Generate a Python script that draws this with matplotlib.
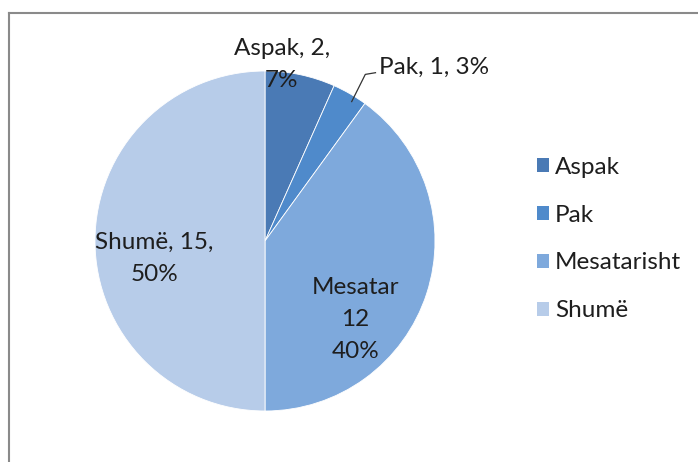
import matplotlib.pyplot as plt
from matplotlib.lines import Line2D
from matplotlib.patches import Patch

# Data
categories = ['Aspak', 'Pak', 'Mesatarisht', 'Shumë']
counts = [2, 1, 12, 15]
slice_labels = ['Aspak, 2,\n7%', 'Pak, 1, 3%', 'Mesatar\n12\n40%', 'Shumë, 15,\n50%']
colors = ['#4A7AB5', '#4F8ACB', '#7EA9DC', '#B7CCE9']

plt.rcParams['font.family'] = ['Lato', 'DejaVu Sans']
fs = 17.5
txt_color = '#1e1e1e'

W, H = 698, 462
fig = plt.figure(figsize=(W / 100, H / 100), dpi=100)

# pie centred at (265, 241) px with radius 170 px
cx, cy, r = 265, 241, 170
ax = fig.add_axes([(cx - r) / W, (H - cy - r) / H, 2 * r / W, 2 * r / H])
wedges, _ = ax.pie(counts, colors=colors, startangle=90, counterclock=False,
                   wedgeprops=dict(edgecolor='white', linewidth=0.6))
ax.set_xlim(-1, 1)
ax.set_ylim(-1, 1)
ax.set_aspect('equal')
ax.axis('off')

# data labels (positions relative to the pie, in units of radius)
label_pos = [(0.10, 1.04), (0.67, 1.02), (0.53, -0.46), (-0.65, -0.10)]
label_ha = ['center', 'left', 'center', 'center']
for lab, (x, y), ha in zip(slice_labels, label_pos, label_ha):
    ax.text(x, y, lab, ha=ha, va='center', multialignment='center',
            fontsize=fs, color=txt_color, linespacing=1.65, clip_on=False)

# leader line for the small slice
ax.plot([0.51, 0.59, 0.65], [0.82, 0.98, 0.99], color='#333333', lw=0.9,
        clip_on=False)

# legend
handles = [Patch(facecolor=c, edgecolor='none') for c in colors]
fig.legend(handles, categories, loc='center left',
           bbox_to_anchor=(537 / W, 1 - 239 / H), frameon=False,
           fontsize=fs, labelcolor=txt_color, handlelength=0.48,
           handleheight=0.48, handletextpad=0.25, labelspacing=1.11,
           borderpad=0, borderaxespad=0)

# chart area border (left and top visible)
bx, by = 9 / W, 1 - 13 / H
fig.add_artist(Line2D([bx, bx], [0, by], color='#8a8a8a', lw=1.5))
fig.add_artist(Line2D([bx, 1], [by, by], color='#8a8a8a', lw=1.5))

fig.savefig('out.png', dpi=100)
